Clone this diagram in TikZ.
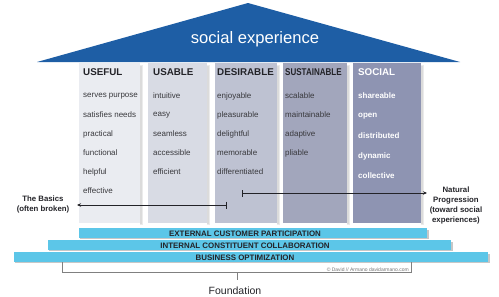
\documentclass[tikz,border=0pt]{standalone}
\usepackage{fontspec}
\usepackage{graphicx}
\setmainfont{Liberation Sans}
\usetikzlibrary{arrows.meta,positioning}
\definecolor{roof}{RGB}{30,94,165}
\definecolor{band}{RGB}{92,198,232}
\definecolor{colA}{RGB}{234,236,241}
\definecolor{colB}{RGB}{216,219,228}
\definecolor{colC}{RGB}{190,194,210}
\definecolor{colD}{RGB}{162,166,188}
\definecolor{colE}{RGB}{142,148,178}
\definecolor{ink}{RGB}{35,35,40}

\begin{document}
\begin{tikzpicture}[x=1pt,y=-1pt,
  item/.style={font=\fontsize{8}{9}\selectfont,anchor=west,inner sep=0pt,text=ink!90},
  head/.style={font=\fontsize{9.8}{11}\selectfont\bfseries,anchor=west,inner sep=0pt,text=ink},
  side/.style={font=\fontsize{7.8}{10}\selectfont\bfseries,align=center,inner sep=0pt,text=ink},
  bandlabel/.style={font=\fontsize{7.9}{9}\selectfont\bfseries,inner sep=0pt,text=ink},
  pointer/.style={line width=0.7pt,ink}]
  \useasboundingbox (0,0) rectangle (499,297);
  % roof
  \fill[roof] (37,62) -- (248,3) -- (460,62) -- cycle;
  \node[text=white,font=\fontsize{16.6}{18}\selectfont] (roofLabel) at (255,39) {social experience};
  % columns
  \foreach \c/\xa/\xb in {colA/79/140,colB/148/207,colC/215/277,colD/283/347,colE/353/421} {\fill[black!8] (\xb,65) rectangle ({\xb+3},225); \fill[black!14] (\xb,66) rectangle ({\xb+1.5},224); \fill[\c] (\xa,63) rectangle (\xb,223);}
  \foreach \n/\x/\t in {useful/83/USEFUL,usable/153/USABLE,desirable/217/DESIRABLE,sustainable/285/{\scalebox{0.82}[1]{SUSTAINABLE}}} \node[head] (\n) at (\x,72) {\t};
  \node[head,text=white!96] (social) at (358,72) {SOCIAL};
  \foreach \w [count=\k from 0] in {serves purpose,satisfies needs,practical,functional,helpful,effective} \node[item] (useful\k) at (83,{96+19*\k}) {\w};
  \foreach \w [count=\k from 0] in {intuitive,easy,seamless,accessible,efficient} \node[item] (usable\k) at (153,{96+19*\k}) {\w};
  \foreach \w [count=\k from 0] in {enjoyable,pleasurable,delightful,memorable,differentiated} \node[item] (desirable\k) at (217,{96+19*\k}) {\w};
  \foreach \w [count=\k from 0] in {scalable,maintainable,adaptive,pliable} \node[item] (sustainable\k) at (285,{96+19*\k}) {\w};
  \foreach \w [count=\k from 0] in {shareable,open,distributed,dynamic,collective} \node[item,text=white,font=\fontsize{8}{9}\selectfont\bfseries] (social\k) at (358,{96+20*\k}) {\w};
  % progression arrows
  \node[side] (basics) at (43,204) {The Basics\\(often broken)};
  \node[side] (natural) at (456,205) {Natural\\Progression\\(toward social\\experiences)};
  \coordinate (basicsFrom) at (227,205); \coordinate (basicsTo) at (77,205);
  \coordinate (naturalFrom) at (242,193); \coordinate (naturalTo) at (427,193);
  \draw[pointer,{Bar[width=7pt]}-{Stealth[length=4pt,width=3.5pt]}] (basicsFrom) -- (basicsTo);
  \draw[pointer,{Bar[width=7pt]}-{Stealth[length=4pt,width=3.5pt]}] (naturalFrom) -- (naturalTo);
  % foundation bands
  \foreach \n/\xa/\xb/\ya/\t in {external/79/427/228/EXTERNAL CUSTOMER PARTICIPATION,internal/48/451/240/INTERNAL CONSTITUENT COLLABORATION,business/14/488/252/BUSINESS OPTIMIZATION} {\fill[black!22] ({\xa+1},{\ya+1.5}) rectangle ({\xb+1.5},{\ya+11}); \fill[band] (\xa,\ya) rectangle (\xb,{\ya+10}); \node[bandlabel] (\n) at (245,{\ya+5.3}) {\t};}
  % foundation bracket
  \draw[black!50,line width=0.6pt] (62,262) -- (62,272) -- (411,272) -- (411,262);
  \node[font=\fontsize{5}{6}\selectfont,text=black!55,anchor=east,inner sep=0pt] (credit) at (409,270) {© David // Armano davidarmano.com};
  \node[font=\fontsize{10.5}{12}\selectfont,text=ink] (foundation) at (235,291) {Foundation};
  \coordinate (tickTop) at (237,272); \coordinate (tickEnd) at (237,280);
  \draw[black!50,line width=0.6pt] (tickTop) -- (tickEnd);
\end{tikzpicture}
\end{document}
